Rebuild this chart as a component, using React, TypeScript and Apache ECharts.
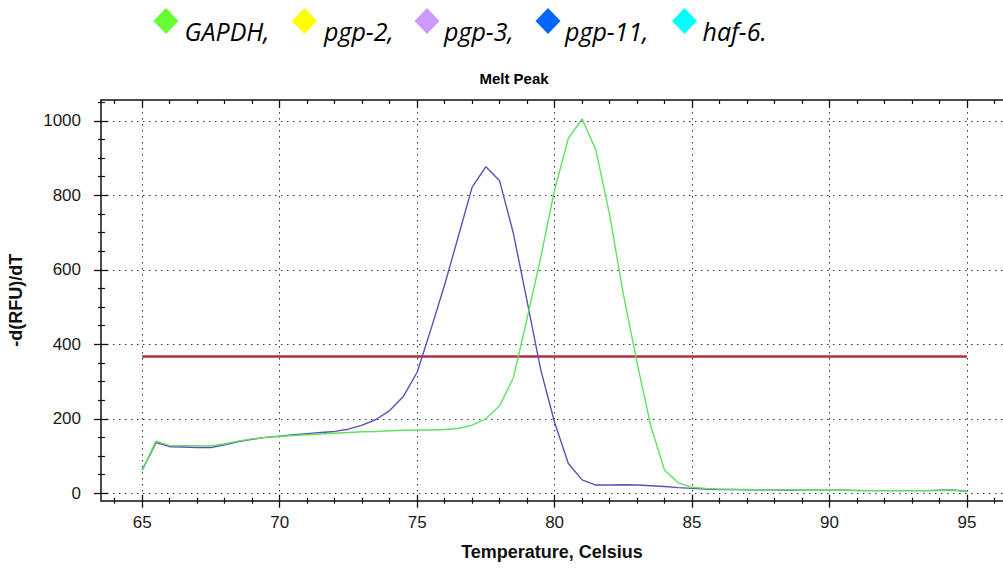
import React, { useEffect, useRef } from "react";
import * as echarts from "echarts";

// ---- data ----
const temps = [
  65, 65.5, 66, 66.5, 67, 67.5, 68, 68.5, 69, 69.5,
  70, 70.5, 71, 71.5, 72, 72.5, 73, 73.5, 74, 74.5,
  75, 75.5, 76, 76.5, 77, 77.5, 78, 78.5, 79, 79.5,
  80, 80.5, 81, 81.5, 82, 82.5, 83, 83.5, 84, 84.5,
  85, 85.5, 86, 86.5, 87, 87.5, 88, 88.5, 89, 89.5,
  90, 90.5, 91, 91.5, 92, 92.5, 93, 93.5, 94, 94.5, 95,
];
const blueValues = [
  62, 136, 125, 124, 123, 123, 130, 139, 145, 150,
  153, 157, 160, 163, 166, 172, 183, 198, 222, 260,
  325, 440, 560, 690, 822, 877, 839, 698, 515, 330,
  190, 80, 36, 22, 22, 23, 22, 20, 18, 15,
  13, 11, 10, 10, 9, 9, 9, 8, 8, 8,
  8, 8, 7, 7, 7, 7, 7, 7, 8, 9, 5,
];
const greenValues = [
  62, 140, 128, 128, 128, 127, 133, 140, 146, 150,
  153, 155, 157, 159, 161, 163, 165, 166, 168, 169,
  170, 170, 171, 174, 183, 200, 235, 310, 470, 635,
  815, 953, 1005, 922, 748, 535, 350, 180, 62, 28,
  16, 13, 11, 10, 10, 9, 9, 9, 8, 8,
  8, 8, 8, 7, 7, 7, 7, 7, 7, 8, 4,
];
const thresholdTemps = [65, 95];
const thresholdValue = 367;

const xMajorTicks = [65, 70, 75, 80, 85, 90, 95];
const xMinorTicks = [64, 66, 67, 68, 69, 71, 72, 73, 74, 76, 77, 78, 79, 81, 82, 83, 84, 86, 87, 88, 89, 91, 92, 93, 94, 96];
const yMajorTicks = [0, 200, 400, 600, 800, 1000];
const yMinorTicks = [50, 100, 150, 250, 300, 350, 450, 500, 550, 650, 700, 750, 850, 900, 950, 1050];

const legendLabels = ["GAPDH,", "pgp-2,", "pgp-3,", "pgp-11,", "haf-6."];
const legendColors = ["#66ff33", "#ffff00", "#cc99ff", "#0066ff", "#00ffff"];

const X_MIN = 63.5;
const X_MAX = 96.31;
const Y_MIN = -20;
const Y_MAX = 1056;

const FONT = "'Liberation Sans', Arial, sans-serif";

export default function App() {
  const ref = useRef<HTMLDivElement>(null);

  useEffect(() => {
    if (!ref.current) return;
    const chart = echarts.init(ref.current, undefined, { renderer: "svg" });

    const tickColor = "#111";
    const xAx = (extra: any) => ({
      type: "value",
      gridIndex: 0,
      min: X_MIN,
      max: X_MAX,
      axisLine: { show: false, onZero: false },
      axisLabel: { show: false },
      splitLine: { show: false },
      ...extra,
    });
    const yAx = (extra: any) => ({
      type: "value",
      gridIndex: 0,
      min: Y_MIN,
      max: Y_MAX,
      axisLine: { show: false, onZero: false },
      axisLabel: { show: false },
      splitLine: { show: false },
      ...extra,
    });

    const legendDiamondX = [166, 304.5, 427, 548, 684.5];
    const legendTextX = [184.5, 324, 444, 565, 702.5];
    const graphics: any[] = [];
    legendLabels.forEach((lab, i) => {
      const cx = legendDiamondX[i];
      const cy = 21;
      graphics.push({
        type: "polygon",
        shape: { points: [[cx, cy - 13], [cx + 12.5, cy], [cx, cy + 13], [cx - 12.5, cy]] },
        style: { fill: legendColors[i] },
      });
      graphics.push({
        type: "text",
        x: legendTextX[i],
        y: 31,
        style: {
          text: lab,
          fill: "#000",
          font: "italic 25px 'Open Sans', 'Noto Sans', sans-serif",
          verticalAlign: "middle",
          align: "left",
        },
      });
    });
    graphics.push({
      type: "text",
      x: 514,
      y: 78,
      style: {
        text: "Melt Peak",
        fill: "#000",
        font: `bold 15px ${FONT}`,
        align: "center",
        verticalAlign: "middle",
      },
    });

    const option: any = {
      animation: false,
      backgroundColor: "#fff",
      grid: { left: 101, right: 0, top: 100, bottom: 68.3, outerBoundsMode: "none" },
      graphic: graphics,
      xAxis: [
        xAx({
          position: "bottom",
          axisLine: { show: true, onZero: false, lineStyle: { color: "#111", width: 1.5 } },
          axisTick: { show: true, customValues: xMajorTicks, length: 7, lineStyle: { color: tickColor, width: 1.3 } },
          axisLabel: { show: true, customValues: xMajorTicks, margin: 13, color: "#1a1a1a", fontSize: 17, fontFamily: FONT, formatter: (v: number) => String(v) },
          splitLine: { show: true, lineStyle: { color: "#333", width: 1, type: [1.5, 4.5] } },
          name: "Temperature, Celsius",
          nameLocation: "middle",
          nameGap: 42,
          nameTextStyle: { color: "#111", fontSize: 18, fontWeight: "bold", fontFamily: FONT },
        }),
        xAx({ position: "bottom", axisTick: { show: true, inside: true, customValues: xMajorTicks, length: 6, lineStyle: { color: tickColor, width: 1.3 } } }),
        xAx({ position: "bottom", axisTick: { show: true, customValues: xMinorTicks, length: 3, lineStyle: { color: tickColor, width: 1.2 } } }),
        xAx({ position: "bottom", axisTick: { show: true, inside: true, customValues: xMinorTicks, length: 3, lineStyle: { color: tickColor, width: 1.2 } } }),
        xAx({
          position: "top",
          axisLine: { show: true, onZero: false, lineStyle: { color: "#111", width: 1.5 } },
          axisTick: { show: true, inside: true, customValues: xMajorTicks, length: 8, lineStyle: { color: tickColor, width: 1.3 } },
        }),
        xAx({ position: "top", axisTick: { show: true, inside: true, customValues: xMinorTicks, length: 4, lineStyle: { color: tickColor, width: 1.2 } } }),
      ],
      yAxis: [
        yAx({
          position: "left",
          axisLine: { show: true, onZero: false, lineStyle: { color: "#111", width: 1.5 } },
          axisTick: { show: true, customValues: yMajorTicks, length: 7, lineStyle: { color: tickColor, width: 1.3 } },
          axisLabel: { show: true, customValues: yMajorTicks, margin: 20, color: "#1a1a1a", fontSize: 17, fontFamily: FONT, formatter: (v: number) => String(v) },
          splitLine: { show: true, lineStyle: { color: "#333", width: 1, type: [1.5, 4.5] } },
          name: "-d(RFU)/dT",
          nameLocation: "middle",
          nameGap: 76,
          nameTextStyle: { color: "#111", fontSize: 18, fontWeight: "bold", fontFamily: FONT },
        }),
        yAx({ position: "left", axisTick: { show: true, inside: true, customValues: yMajorTicks, length: 7, lineStyle: { color: tickColor, width: 1.3 } } }),
        yAx({ position: "left", axisTick: { show: true, customValues: yMinorTicks, length: 3, lineStyle: { color: tickColor, width: 1.2 } } }),
        yAx({ position: "left", axisTick: { show: true, inside: true, customValues: yMinorTicks, length: 4, lineStyle: { color: tickColor, width: 1.2 } } }),
      ],
      series: [
        {
          name: "Threshold",
          type: "line",
          xAxisIndex: 0,
          yAxisIndex: 0,
          data: thresholdTemps.map((t) => [t, thresholdValue]),
          showSymbol: false,
          symbol: "none",
          lineStyle: { color: "#b0303c", width: 2.5 },
          z: 3,
        },
        {
          name: "Curve 1",
          type: "line",
          xAxisIndex: 0,
          yAxisIndex: 0,
          data: temps.map((t, i) => [t, blueValues[i]]),
          symbol: "none",
          lineStyle: { color: "#5a52b4", width: 1.4 },
          z: 4,
        },
        {
          name: "Curve 2",
          type: "line",
          xAxisIndex: 0,
          yAxisIndex: 0,
          data: temps.map((t, i) => [t, greenValues[i]]),
          symbol: "none",
          lineStyle: { color: "#5ee35e", width: 1.4 },
          z: 5,
        },
      ],
    };
    chart.setOption(option);
    return () => chart.dispose();
  }, []);

  return (
    <div
      ref={ref}
      style={{ position: "fixed", left: 0, top: 0, width: 1003, height: 569, background: "#fff" }}
    />
  );
}
